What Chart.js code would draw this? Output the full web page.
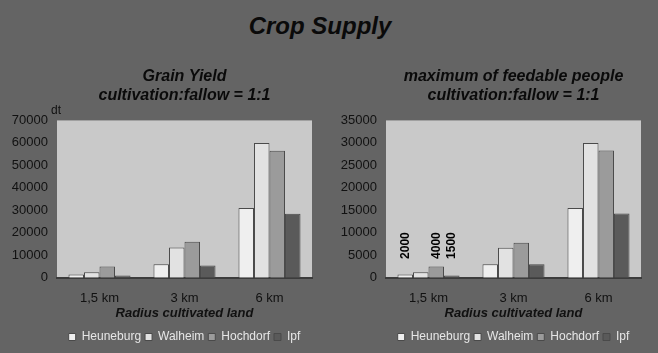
<!DOCTYPE html>
<html>
<head>
<meta charset="utf-8">
<script src="https://cdn.jsdelivr.net/npm/chart.js@4.4.0/dist/chart.umd.min.js"></script>
<style>
  body { margin: 0; background: #646464; }
  #wrap { position: relative; width: 658px; height: 353px; background: #646464; overflow: hidden; }
  #main { position: absolute; left: 0; top: 12px; width: 640px; text-align: center;
    font: italic bold 24px "Liberation Sans", Arial, sans-serif; color: #0a0a0a; }
  .box { position: absolute; top: 0; width: 329px; height: 353px; }
  #dt { position: absolute; left: 51px; top: 103px; font: 12px "Liberation Sans", Arial, sans-serif; color: #111; }
</style>
</head>
<body>
<div id="wrap">
  <div id="main">Crop Supply</div>
  <div class="box" style="left:0"><canvas id="c1" width="329" height="353"></canvas></div>
  <div class="box" style="left:329px"><canvas id="c2" width="329" height="353"></canvas></div>
  <div id="dt">dt</div>
</div>
<script>
// categories + series
const radius = ['1,5 km', '3 km', '6 km'];
const sites = ['Heuneburg', 'Walheim', 'Hochdorf', 'Ipf'];

// grain yield in dt
const yieldHeuneburg = [1500, 6000, 31000];
const yieldWalheim = [2500, 13500, 60000];
const yieldHochdorf = [5000, 16000, 56500];
const yieldIpf = [1000, 5500, 28500];

// maximum of feedable people
const peopleHeuneburg = [750, 3000, 15500];
const peopleWalheim = [1250, 6700, 30000];
const peopleHochdorf = [2500, 7800, 28300];
const peopleIpf = [500, 3000, 14300];

// the rotated labels over the 1,5 km group (one per site, null = none)
const smallLabels = ['2000', null, '4000', '1500'];

const colors = ['#efefef', '#e2e2e2', '#9b9b9b', '#5a5a5a'];
const FONT = '"Liberation Sans", Arial, sans-serif';

// light grey plot area
const plotBg = {
  id: 'plotBg',
  beforeDraw(chart) {
    const a = chart.chartArea, c = chart.ctx;
    c.save();
    c.fillStyle = '#c9c9c9';
    c.fillRect(a.left, a.top, a.right - a.left, a.bottom - a.top);
    c.restore();
  }
};

// vertical labels above first group (right chart only)
const rotLabels = {
  id: 'rotLabels',
  afterDatasetsDraw(chart, args, opts) {
    if (!opts.labels) return;
    const c = chart.ctx, y = chart.scales.y;
    c.save();
    c.font = 'bold 12px ' + FONT;
    c.fillStyle = '#000';
    c.textBaseline = 'middle';
    c.textAlign = 'left';
    opts.labels.forEach((txt, i) => {
      if (!txt) return;
      const bar = chart.getDatasetMeta(i).data[0];
      c.save();
      c.translate(bar.x, y.getPixelForValue(opts.base));
      c.rotate(-Math.PI / 2);
      c.fillText(txt, 0, 0);
      c.restore();
    });
    c.restore();
  }
};

function makeChart(id, title, series, yMax, step, labels) {
  return new Chart(document.getElementById(id), {
    type: 'bar',
    data: {
      labels: radius,
      datasets: sites.map((s, i) => ({
        label: s,
        data: series[i],
        backgroundColor: colors[i],
        borderColor: '#4a4a4a',
        borderWidth: 1,
        categoryPercentage: 0.73,
        barPercentage: 1.0
      }))
    },
    options: {
      responsive: false,
      animation: false,
      layout: { padding: { top: 60, left: 0, right: 17, bottom: 0 } },
      scales: {
        x: {
          grid: { display: false, drawTicks: false },
          border: { color: '#3c3c3c', width: 2 },
          ticks: { color: '#111', font: { family: FONT, size: 13 }, padding: 13 },
          title: { display: true, text: 'Radius cultivated land', color: '#111',
            font: { family: FONT, size: 13, style: 'italic', weight: 'bold' }, padding: { top: -14, bottom: 6 } }
        },
        y: {
          min: 0, max: yMax,
          grid: { display: false, drawTicks: false },
          border: { display: false },
          ticks: { stepSize: step, color: '#111', font: { family: FONT, size: 13 }, padding: 9,
            callback: v => String(v) },
          afterFit(scale) { scale.width = 57; }
        }
      },
      plugins: {
        title: {
          display: true, text: title, fullSize: false, color: '#0a0a0a',
          font: { family: FONT, size: 16, style: 'italic', weight: 'bold' },
          padding: { top: 7, bottom: 15 }
        },
        legend: {
          position: 'bottom', fullSize: false,
          labels: { color: '#e6e6e6', boxWidth: 7, boxHeight: 7, padding: 4,
            font: { family: FONT, size: 12 } }
        },
        tooltip: { enabled: false },
        rotLabels: { labels: labels, base: 4200 }
      }
    },
    plugins: [plotBg, rotLabels]
  });
}

makeChart('c1', ['Grain Yield', 'cultivation:fallow = 1:1'],
  [yieldHeuneburg, yieldWalheim, yieldHochdorf, yieldIpf], 70000, 10000, null);
makeChart('c2', ['maximum of feedable people', 'cultivation:fallow = 1:1'],
  [peopleHeuneburg, peopleWalheim, peopleHochdorf, peopleIpf], 35000, 5000, smallLabels);
</script>
</body>
</html>
